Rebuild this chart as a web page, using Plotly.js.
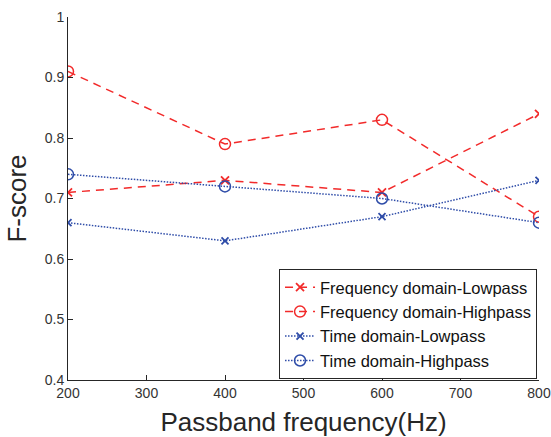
<!DOCTYPE html>
<html>
<head>
<meta charset="utf-8">
<script src="https://cdn.plot.ly/plotly-3.0.1.min.js"></script>
<style>html,body{margin:0;padding:0;background:#fff;}#chart{width:551px;height:437px;}</style>
</head>
<body>
<div id="chart"></div>
<script>
const freqs = [200, 400, 600, 800];
const fdLowpass = [0.71, 0.73, 0.71, 0.84];
const fdHighpass = [0.91, 0.79, 0.83, 0.67];
const tdLowpass = [0.66, 0.63, 0.67, 0.73];
const tdHighpass = [0.74, 0.72, 0.70, 0.66];
const names = ['Frequency domain-Lowpass', 'Frequency domain-Highpass', 'Time domain-Lowpass', 'Time domain-Highpass'];

const red = '#f22a2a';
const blue = '#2e4ca8';

const traces = [
  {x: freqs, y: fdLowpass, name: names[0], mode: 'lines+markers',
   line: {color: red, dash: '8px,6px', width: 1.5},
   marker: {symbol: 'x-thin-open', size: 8, color: red, line: {color: red, width: 1.8}}},
  {x: freqs, y: fdHighpass, name: names[1], mode: 'lines+markers',
   line: {color: red, dash: '8px,6px', width: 1.5},
   marker: {symbol: 'circle-open', size: 11, color: red, line: {color: red, width: 1.5}}},
  {x: freqs, y: tdLowpass, name: names[2], mode: 'lines+markers',
   line: {color: blue, dash: '1.5px,1.5px', width: 1.5},
   marker: {symbol: 'x-thin-open', size: 7, color: blue, line: {color: blue, width: 1.8}}},
  {x: freqs, y: tdHighpass, name: names[3], mode: 'lines+markers',
   line: {color: blue, dash: '1.5px,1.5px', width: 1.5},
   marker: {symbol: 'circle-open', size: 11, color: blue, line: {color: blue, width: 1.5}}}
];

const layout = {
  width: 551, height: 437,
  margin: {l: 68, r: 12, t: 17, b: 57},
  paper_bgcolor: '#fff', plot_bgcolor: '#fff',
  font: {family: 'Liberation Sans, Arial, sans-serif', color: '#262626'},
  showlegend: true,
  legend: {x: 0.9958, xanchor: 'right', y: 0.003, yanchor: 'bottom',
    bgcolor: '#fff', bordercolor: '#262626', borderwidth: 1,
    font: {size: 16.5, color: '#111'}, tracegroupgap: 0},
  xaxis: {
    range: [200, 800], tickmode: 'array', tickvals: [200, 300, 400, 500, 600, 700, 800],
    showgrid: false, zeroline: false, showline: true, linecolor: '#262626', linewidth: 1,
    ticks: 'inside', ticklen: 5, tickcolor: '#262626',
    tickfont: {size: 14, color: '#333'},
    title: {text: 'Passband frequency(Hz)', font: {size: 26, color: '#262626'}, standoff: 14}
  },
  yaxis: {
    range: [0.4, 1], tickmode: 'array', tickvals: [0.4, 0.5, 0.6, 0.7, 0.8, 0.9, 1],
    ticktext: ['0.4', '0.5', '0.6', '0.7', '0.8', '0.9', '1'],
    showgrid: false, zeroline: false, showline: true, linecolor: '#262626', linewidth: 1,
    ticks: 'inside', ticklen: 5, tickcolor: '#262626',
    tickfont: {size: 14, color: '#333'},
    title: {text: 'F-score', font: {size: 26, color: '#262626'}, standoff: 10}
  }
};

Plotly.newPlot('chart', traces, layout, {displayModeBar: false, staticPlot: true});
</script>
</body>
</html>
